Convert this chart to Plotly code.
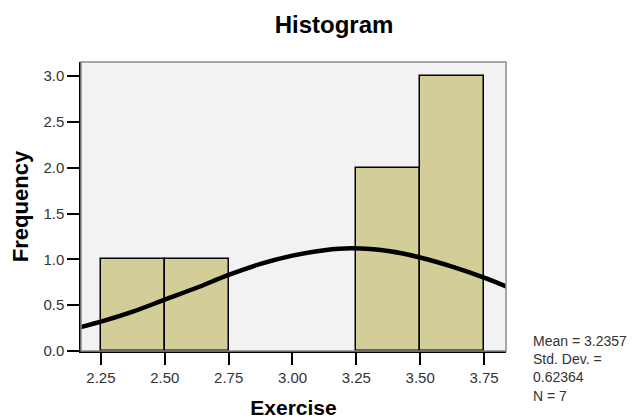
import plotly.graph_objects as go

# Histogram bins (lower edge, upper edge) and counts
bin_lower = [2.25, 2.50, 3.25, 3.50]
bin_upper = [2.50, 2.75, 3.50, 3.75]
counts = [1, 1, 2, 3]

# Normal curve points
curve_x = [2.17, 2.25, 2.375, 2.50, 2.625, 2.75, 2.875, 3.00, 3.125, 3.2357,
           3.375, 3.50, 3.625, 3.75, 3.84]
curve_y = [0.26, 0.32, 0.43, 0.56, 0.69, 0.83, 0.95, 1.04, 1.10, 1.12,
           1.09, 1.02, 0.92, 0.80, 0.70]

x_ticks = [2.25, 2.50, 2.75, 3.00, 3.25, 3.50, 3.75]
x_tick_labels = ["2.25", "2.50", "2.75", "3.00", "3.25", "3.50", "3.75"]
y_ticks = [0.0, 0.5, 1.0, 1.5, 2.0, 2.5, 3.0]
y_tick_labels = ["0.0", "0.5", "1.0", "1.5", "2.0", "2.5", "3.0"]

stats_lines = ["Mean = 3.2357", "Std. Dev. =", "0.62364", "N = 7"]

centers = [(a + b) / 2 for a, b in zip(bin_lower, bin_upper)]
widths = [b - a for a, b in zip(bin_lower, bin_upper)]

FONT = "Liberation Sans, Arial, sans-serif"

# page body has an 8px margin, so the figure is sized/offset accordingly
W, H = 629, 411

fig = go.Figure()
fig.add_trace(go.Bar(
    x=centers, y=counts, width=widths,
    marker=dict(color="#d3ce97", line=dict(color="#000000", width=1.5)),
    hoverinfo="skip", showlegend=False,
))
fig.add_trace(go.Scatter(
    x=curve_x, y=curve_y, mode="lines", line=dict(color="#000000", width=4.5, shape="spline"),
    hoverinfo="skip", showlegend=False, cliponaxis=True,
))

fig.update_layout(
    width=W, height=H,
    margin=dict(l=73, r=131, t=54, b=68, autoexpand=False),
    paper_bgcolor="#ffffff",
    plot_bgcolor="#f2f2f2",
    title=dict(text="<b>Histogram</b>", x=326 / W, xanchor="center", y=1 - 17 / H,
               yanchor="middle",
               font=dict(family=FONT, size=24, color="#000000")),
    font=dict(family=FONT, color="#333333"),
    bargap=0,
)
fig.update_xaxes(
    range=[2.172, 3.836], tickvals=x_ticks, ticktext=x_tick_labels,
    ticks="outside", ticklen=12, tickwidth=1.5, tickcolor="#000000",
    showline=True, linecolor="#000000", linewidth=1.5,
    showgrid=False, zeroline=False, automargin=False,
    tickfont=dict(family=FONT, size=15, color="#333333"),
    title=dict(text="<b>Exercise</b>", font=dict(family=FONT, size=21, color="#000000"), standoff=18),
)
fig.update_yaxes(
    range=[0, 3.153], tickvals=y_ticks, ticktext=y_tick_labels,
    ticks="outside", ticklen=12, tickwidth=1.5, tickcolor="#000000",
    showline=True, linecolor="#000000", linewidth=1.5,
    showgrid=False, zeroline=False, automargin=False,
    tickfont=dict(family=FONT, size=15, color="#333333"),
    title=dict(text="<b>Frequency</b>", font=dict(family=FONT, size=22, color="#000000"), standoff=14),
)
# plot frame (top/right)
fig.add_shape(type="rect", xref="paper", yref="paper", x0=0, y0=0, x1=1, y1=1,
              line=dict(color="#8c8c8c", width=1.5), layer="above")

fig.add_annotation(
    text="<br>".join(stats_lines), xref="paper", yref="paper",
    x=1.0588, y=-0.0606, xanchor="left", yanchor="middle", align="left", showarrow=False,
    font=dict(family=FONT, size=14, color="#333333"),
)

fig.write_html("out.html")
